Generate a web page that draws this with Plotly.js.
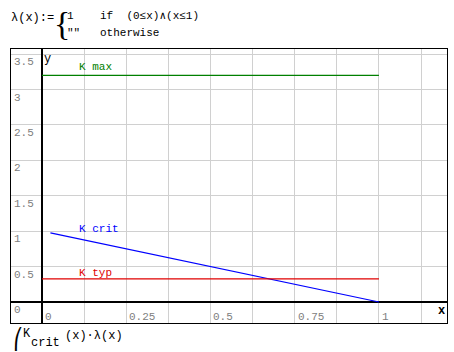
<!DOCTYPE html>
<html>
<head>
<meta charset="utf-8">
<script src="https://cdn.plot.ly/plotly-3.0.1.min.js"></script>
<style>html,body{margin:0;padding:0;background:#fff;}#chart{width:454px;height:352px;}</style>
</head>
<body>
<div id="chart"></div>
<script>
// Data
const kmaxX = [0, 1];
const kmaxY = [3.2, 3.2];
const kcritX = [0.025, 1];
const kcritY = [0.975, 0];
const ktypX = [0, 1];
const ktypY = [0.325, 0.325];
const seriesNames = ['K max', 'K crit', 'K typ'];
const xTicks = [0, 0.25, 0.5, 0.75, 1];
const xTickLabels = ['0', '0.25', '0.5', '0.75', '1'];
const yTicks = [0, 0.5, 1, 1.5, 2, 2.5, 3, 3.5];
const yTickLabels = ['0', '0.5', '1', '1.5', '2', '2.5', '3', '3.5'];

const W = 454, H = 352;
const L = 11, R = 7, T = 49, B = 29;
const PW = W - L - R, PH = H - T - B;
const px = v => (v - L) / PW;
const py = v => (H - B - v) / PH;
const MONO = 'Liberation Mono, Courier New, monospace';

const traces = [
  {x: kmaxX, y: kmaxY, mode: 'lines', line: {color: '#008000', width: 1.2}, name: seriesNames[0]},
  {x: kcritX, y: kcritY, mode: 'lines', line: {color: '#0000ff', width: 1.2}, name: seriesNames[1]},
  {x: ktypX, y: ktypY, mode: 'lines', line: {color: '#e00000', width: 1.2}, name: seriesNames[2]}
];

const ann = [];
xTicks.forEach((v, i) => ann.push({x: v, y: 0, xref: 'x', yref: 'y', text: xTickLabels[i], showarrow: false,
  xanchor: 'left', yanchor: 'middle', xshift: 1, yshift: -15, font: {family: MONO, size: 11, color: '#808080'}}));
yTicks.forEach((v, i) => ann.push({x: 0, y: v, xref: 'paper', yref: 'y', text: yTickLabels[i], showarrow: false,
  xanchor: 'left', yanchor: 'middle', xshift: 1, yshift: -8, font: {family: MONO, size: 11, color: '#808080'}}));
// series labels
ann.push({x: 0.104, y: kmaxY[0], xref: 'x', yref: 'y', text: seriesNames[0], showarrow: false, xanchor: 'left', yanchor: 'middle', yshift: 8, font: {family: MONO, size: 11, color: '#008000'}});
ann.push({x: 0.104, y: kcritY[0], xref: 'x', yref: 'y', text: seriesNames[1], showarrow: false, xanchor: 'left', yanchor: 'middle', yshift: 4, font: {family: MONO, size: 11, color: '#0000ff'}});
ann.push({x: 0.104, y: ktypY[0], xref: 'x', yref: 'y', text: seriesNames[2], showarrow: false, xanchor: 'left', yanchor: 'middle', yshift: 6, font: {family: MONO, size: 11, color: '#e00000'}});
// axis names
ann.push({x: 0, y: py(59), xref: 'x', yref: 'paper', text: 'y', showarrow: false, xanchor: 'left', yanchor: 'middle', xshift: 0, font: {family: MONO, size: 12, color: '#000'}});
ann.push({x: px(441), y: 0, xref: 'paper', yref: 'y', text: '<b>x</b>', showarrow: false, xanchor: 'center', yanchor: 'middle', yshift: -9, font: {family: MONO, size: 12, color: '#000'}});
// top definition
ann.push({x: px(9), y: py(18), xref: 'paper', yref: 'paper', text: 'λ(x):=', showarrow: false, xanchor: 'left', yanchor: 'middle', font: {family: MONO, size: 12, color: '#000'}});
ann.push({x: px(52), y: py(23), xref: 'paper', yref: 'paper', text: '{', showarrow: false, xanchor: 'left', yanchor: 'middle', font: {family: 'Liberation Serif', size: 34, color: '#000'}});
ann.push({x: px(65), y: py(16), xref: 'paper', yref: 'paper', text: '1    if  (0≤x)∧(x≤1)', showarrow: false, xanchor: 'left', yanchor: 'middle', font: {family: MONO, size: 11, color: '#000'}});
ann.push({x: px(65), y: py(33), xref: 'paper', yref: 'paper', text: '""   otherwise', showarrow: false, xanchor: 'left', yanchor: 'middle', font: {family: MONO, size: 11, color: '#000'}});
// bottom expression
ann.push({x: px(11), y: py(339), xref: 'paper', yref: 'paper', text: '⎛', showarrow: false, xanchor: 'left', yanchor: 'middle', font: {family: 'DejaVu Sans', size: 20, color: '#000'}});
ann.push({x: px(21), y: py(334), xref: 'paper', yref: 'paper', text: 'K', showarrow: false, xanchor: 'left', yanchor: 'middle', font: {family: MONO, size: 12, color: '#000'}});
ann.push({x: px(29), y: py(343), xref: 'paper', yref: 'paper', text: 'crit', showarrow: false, xanchor: 'left', yanchor: 'middle', font: {family: MONO, size: 12, color: '#000'}});
ann.push({x: px(63), y: py(336), xref: 'paper', yref: 'paper', text: '(x)·λ(x)', showarrow: false, xanchor: 'left', yanchor: 'middle', font: {family: MONO, size: 12, color: '#000'}});

const layout = {
  width: W, height: H,
  margin: {l: L, r: R, t: T, b: B, pad: 0},
  paper_bgcolor: '#fff', plot_bgcolor: '#fff',
  showlegend: false,
  xaxis: {range: [-0.092, 1.202], tick0: 0, dtick: 0.125, showgrid: true, gridcolor: '#d0d0d0', gridwidth: 1,
    zeroline: true, zerolinecolor: '#000', zerolinewidth: 1.2, showline: true, mirror: true, linecolor: '#000', linewidth: 1.2,
    showticklabels: false, ticks: '', fixedrange: true},
  yaxis: {range: [-0.297, 3.573], tick0: 0, dtick: 0.5, showgrid: true, gridcolor: '#d0d0d0', gridwidth: 1,
    zeroline: true, zerolinecolor: '#000', zerolinewidth: 1.2, showline: true, mirror: true, linecolor: '#000', linewidth: 1.2,
    showticklabels: false, ticks: '', fixedrange: true},
  annotations: ann
};
Plotly.newPlot('chart', traces, layout, {displayModeBar: false, staticPlot: true});
</script>
</body>
</html>
